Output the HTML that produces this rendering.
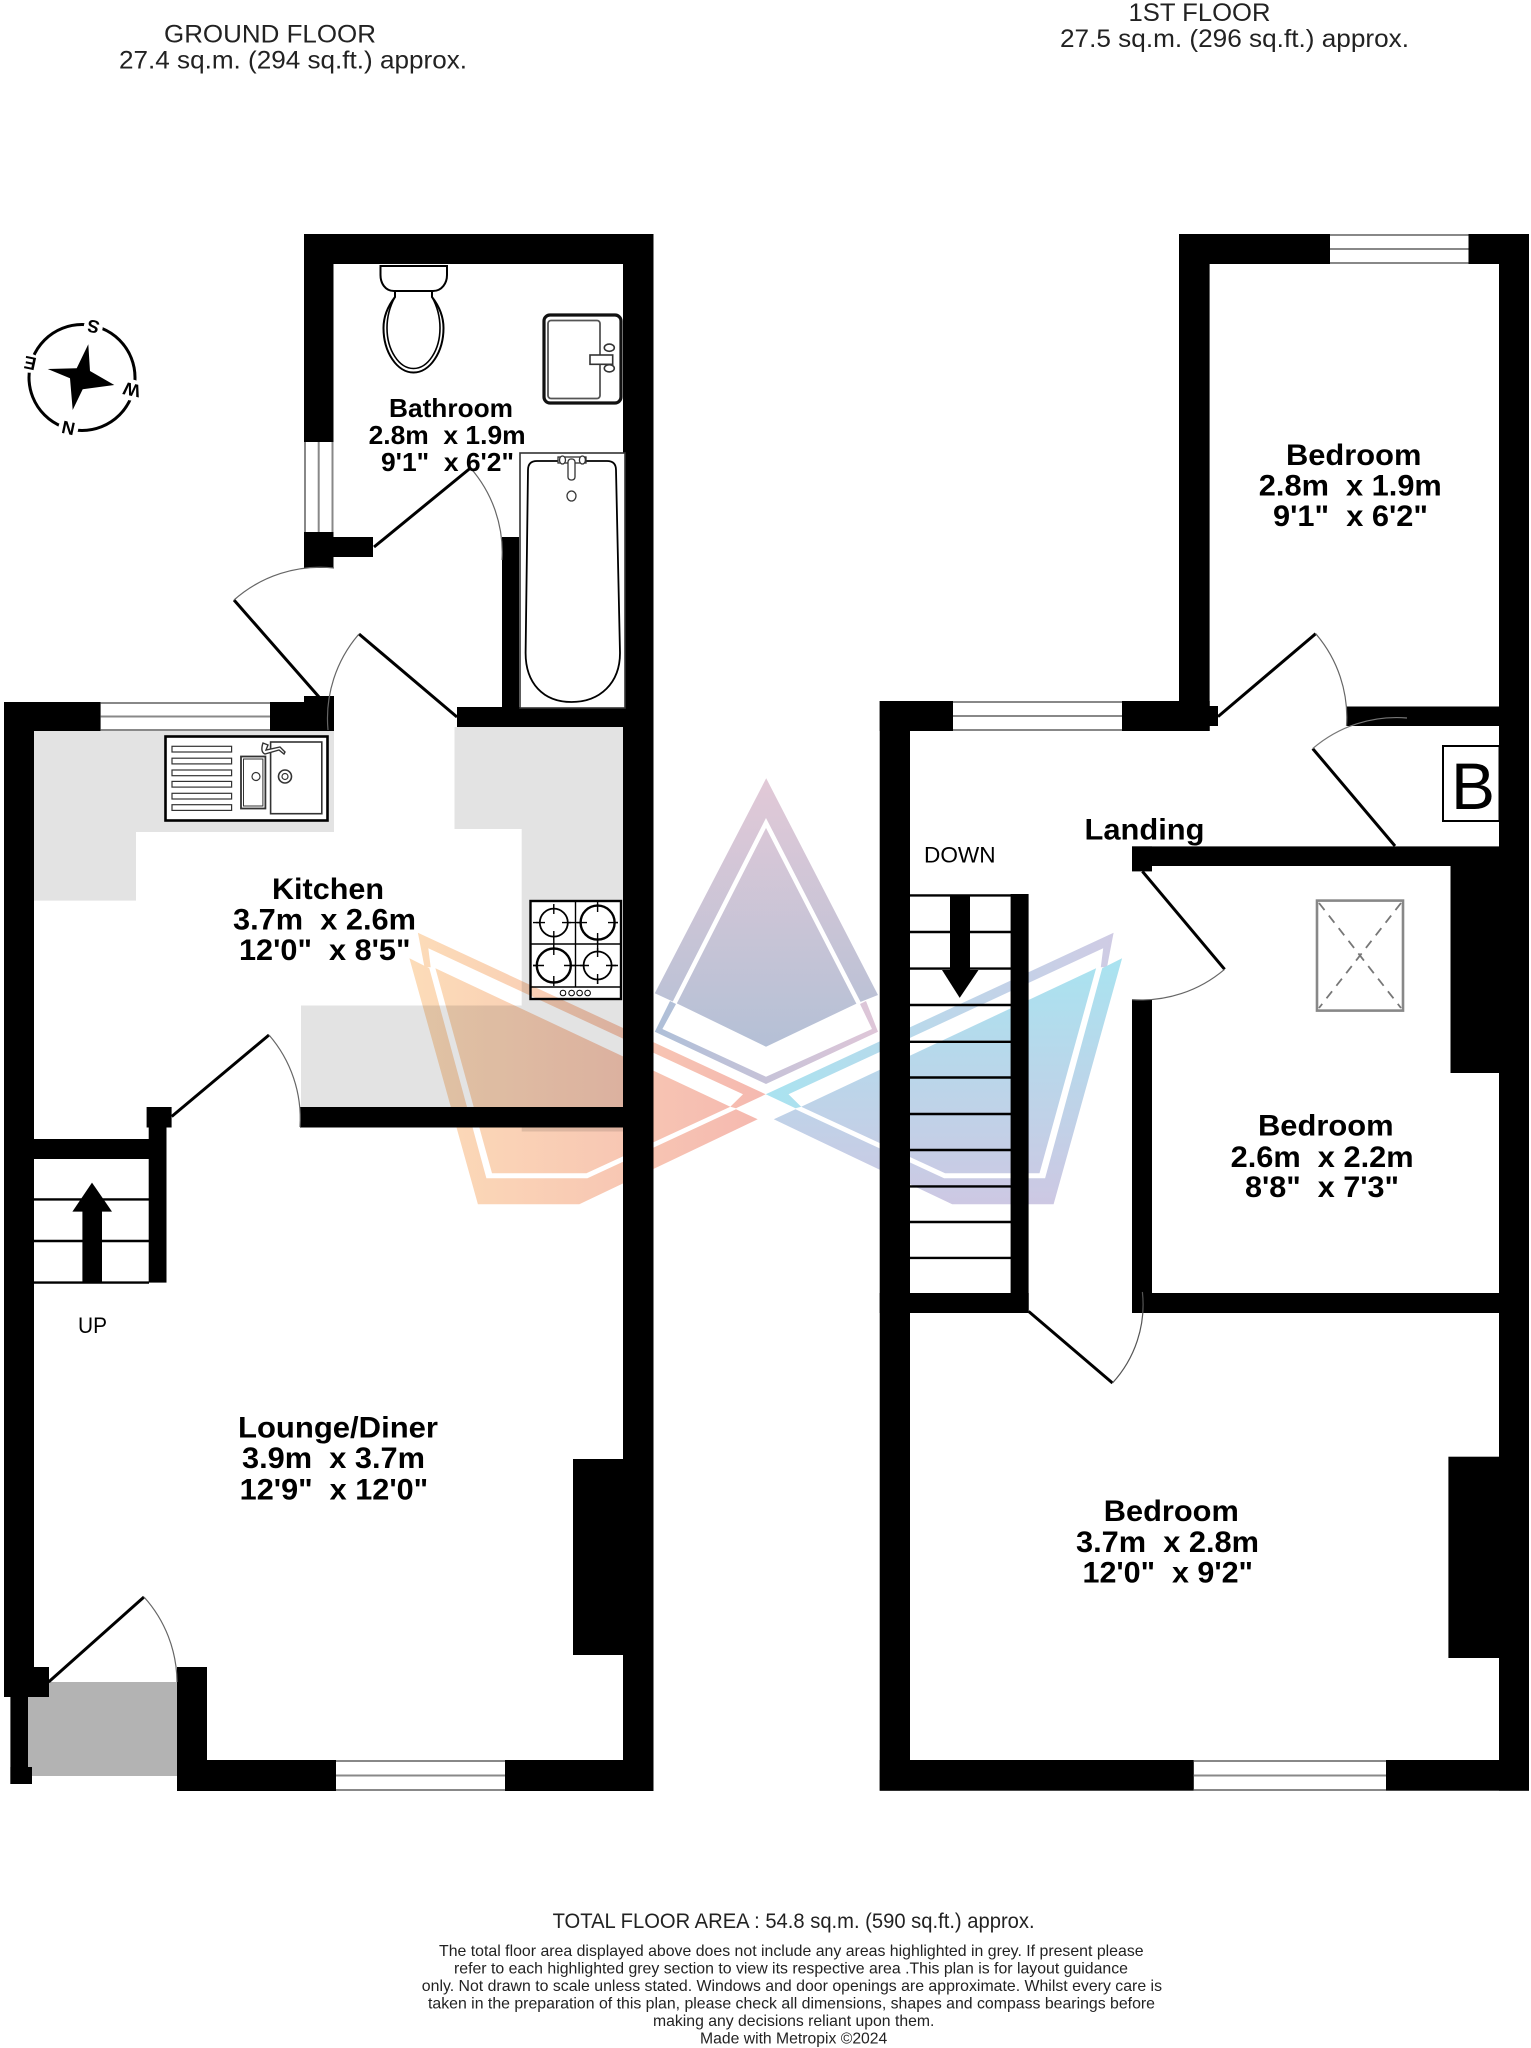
<!DOCTYPE html>
<html><head><meta charset="utf-8"><style>
html,body{margin:0;padding:0;background:#fff}
svg{display:block}
text{font-family:"Liberation Sans",sans-serif;white-space:pre;fill:#000}
.b{font-weight:bold}
.r{font-size:30px;font-weight:bold}
.f{font-size:16px;fill:#222}
.h{font-size:25px;fill:#222}
.leaf{stroke:#000;stroke-width:3;fill:none}
.arc{stroke:#666;stroke-width:1.2;fill:none}
.win{fill:#fff;stroke:none}
.wl{stroke:#888;stroke-width:2;fill:none}
.tread{stroke:#000;stroke-width:2.4}
</style></head><body>
<svg xmlns="http://www.w3.org/2000/svg" width="1531" height="2048" viewBox="0 0 1531 2048">
<defs>
<linearGradient id="gk" gradientUnits="userSpaceOnUse" x1="0" y1="778" x2="0" y2="1084"><stop offset="0" stop-color="#e2c9d7"/><stop offset="1" stop-color="#aebfd6"/></linearGradient>
<linearGradient id="gk2" gradientUnits="userSpaceOnUse" x1="655" y1="0" x2="878" y2="0"><stop offset="0" stop-color="#aebfd8"/><stop offset="1" stop-color="#dfc6d8"/></linearGradient>
<linearGradient id="go" gradientUnits="userSpaceOnUse" x1="410" y1="0" x2="760" y2="0"><stop offset="0" stop-color="#fcdcb8"/><stop offset="1" stop-color="#f5b9b0"/></linearGradient>
<linearGradient id="gb" gradientUnits="userSpaceOnUse" x1="0" y1="960" x2="0" y2="1204"><stop offset="0" stop-color="#a9e3f0"/><stop offset="1" stop-color="#cdc8e3"/></linearGradient>
<linearGradient id="gb1" gradientUnits="userSpaceOnUse" x1="418" y1="0" x2="766" y2="0"><stop offset="0" stop-color="#cfcbe4"/><stop offset="1" stop-color="#a9e3f0"/></linearGradient>
</defs>
<rect width="1531" height="2048" fill="#fff"/>

<!-- headers -->
<text class="h" x="164" y="42.5" textLength="212" lengthAdjust="spacingAndGlyphs">GROUND FLOOR</text>
<text class="h" x="119" y="68.5" textLength="348" lengthAdjust="spacingAndGlyphs">27.4 sq.m. (294 sq.ft.) approx.</text>
<text class="h" x="1128.5" y="21" textLength="142" lengthAdjust="spacingAndGlyphs">1ST FLOOR</text>
<text class="h" x="1060" y="47" textLength="349" lengthAdjust="spacingAndGlyphs">27.5 sq.m. (296 sq.ft.) approx.</text>

<!-- compass -->
<circle cx="82" cy="377.5" r="53" fill="none" stroke="#000" stroke-width="3"/>
<g fill="#fff"><circle cx="93.3" cy="326.7" r="9.5"/><circle cx="131.7" cy="390" r="10.5"/><circle cx="68.3" cy="428.3" r="10"/><circle cx="30" cy="363.3" r="9.5"/></g>
<polygon points="88.3,344.3 90,371 114.3,385 82.7,389.3 72.7,410 70,378.3 47.7,369 76.7,368.3" fill="#000"/>
<text text-anchor="middle" class="b" transform="translate(93.3,326.7) rotate(192) translate(0,6.5)" style="font-size:18px">S</text>
<text text-anchor="middle" class="b" transform="translate(131.7,390) rotate(192) translate(0,6.5)" style="font-size:18px">W</text>
<text text-anchor="middle" class="b" transform="translate(68.3,428.3) rotate(192) translate(0,6.5)" style="font-size:18px">N</text>
<text text-anchor="middle" class="b" transform="translate(30,363.3) rotate(192) translate(0,6.5)" style="font-size:18px">E</text>

<!-- ground floor worktops -->
<path d="M34 731H334V832H136V900.6H34Z" fill="#e3e3e3"/>
<path d="M454.5 727H623V1107H301V1005.5H521.7V829H454.5Z" fill="#e3e3e3"/>
<rect x="521.7" y="1125" width="101.3" height="6.5" fill="#e3e3e3"/>
<rect x="28" y="1682" width="149" height="94" fill="#b3b3b3"/>

<!-- ground floor walls -->
<g fill="#000">
<rect x="304" y="234" width="349.5" height="30"/>
<rect x="304" y="234" width="29.5" height="208"/>
<rect x="304" y="532" width="29.5" height="36"/>
<rect x="333" y="537" width="40" height="20"/>
<rect x="623" y="234" width="30.5" height="1557"/>
<rect x="502" y="537" width="17" height="172"/>
<rect x="457" y="707" width="167" height="20"/>
<rect x="4" y="702" width="330" height="29"/>
<rect x="304" y="696" width="30" height="35"/>
<rect x="4" y="702" width="30" height="995"/>
<rect x="4" y="1667" width="45" height="30"/>
<rect x="10.4" y="1697" width="17.6" height="87"/>
<rect x="10.4" y="1767" width="21.6" height="17"/>
<rect x="177" y="1667" width="30" height="124"/>
<rect x="177" y="1760" width="476" height="31"/>
<rect x="573" y="1459" width="50" height="196"/>
<rect x="300" y="1107" width="323" height="20.5"/>
<rect x="34" y="1139" width="132" height="20"/>
<rect x="146.6" y="1107" width="25" height="20.5"/>
<rect x="148.7" y="1127" width="17.8" height="155.6"/>
<rect x="82.4" y="1211" width="19.6" height="71.6"/>
<polygon points="92,1182.6 112,1211.6 72.4,1211.6"/>
</g>
<g>
<line class="tread" x1="34" y1="1199.4" x2="149" y2="1199.4"/>
<line class="tread" x1="34" y1="1241" x2="149" y2="1241"/>
<line class="tread" x1="34" y1="1282.6" x2="149" y2="1282.6"/>
</g>
<text x="78" y="1333" style="font-size:22px" textLength="29" lengthAdjust="spacingAndGlyphs">UP</text>

<!-- ground windows -->
<rect x="304" y="442" width="29.5" height="90" class="win"/>
<path class="wl" d="M305 442V532M318.7 442V532M332.5 442V532"/>
<rect x="100.6" y="702" width="169.4" height="29" class="win"/>
<path class="wl" d="M100.6 703H270M100.6 716.5H270M100.6 730H270"/>
<rect x="336" y="1760" width="169" height="31" class="win"/>
<path class="wl" d="M336 1761H505M336 1775.5H505M336 1790H505"/>

<!-- ground doors -->
<line class="leaf" x1="374" y1="547" x2="470.5" y2="468"/>
<path class="arc" d="M470.5 468A128 128 0 0 1 502 560"/>
<line class="leaf" x1="319" y1="697" x2="234" y2="600"/>
<path class="arc" d="M234 600A130 130 0 0 1 334 568"/>
<line class="leaf" x1="457" y1="717" x2="359" y2="634"/>
<path class="arc" d="M359 634A129 129 0 0 0 328 730"/>
<line class="leaf" x1="171.7" y1="1116.5" x2="269" y2="1035"/>
<path class="arc" d="M269 1035A128 128 0 0 1 300 1127"/>
<line class="leaf" x1="48.6" y1="1682" x2="144" y2="1597"/>
<path class="arc" d="M144 1597A128 128 0 0 1 177 1682"/>

<!-- WC -->
<g fill="#fff" stroke="#000" stroke-width="2">
<path d="M395 292V297C388 306 383.5 316 383.5 328C383.5 352 397 372.5 413.5 372.5C430 372.5 443.5 352 443.5 328C443.5 316 439 306 432 297V292" />
<path d="M395 297C390 306 387 317 387 328C387 350 399 368.5 413.5 368.5C428 368.5 440 350 440 328C440 317 437 306 432 297" fill="none" stroke-width="1.6"/>
<path d="M380.5 266H447V275C447 283 442 291 433 291H394C385 291 380.5 283 380.5 275Z"/>
</g>
<!-- basin -->
<rect x="544" y="315" width="77" height="88" rx="6" fill="#fff" stroke="#111" stroke-width="3.2"/>
<rect x="548" y="320.5" width="52" height="78" rx="3" fill="#fff" stroke="#555" stroke-width="1.8"/>
<ellipse cx="609.3" cy="347.7" rx="5" ry="3.6" fill="#fff" stroke="#333" stroke-width="1.6"/>
<ellipse cx="609.3" cy="368.3" rx="5" ry="3.6" fill="#fff" stroke="#333" stroke-width="1.6"/>
<rect x="590" y="355" width="22.7" height="9.3" fill="#fff" stroke="#333" stroke-width="1.6"/>
<!-- bath -->
<rect x="520" y="453" width="105" height="255" fill="#fff" stroke="#333" stroke-width="1.6"/>
<path d="M528 470Q528 461 537 461H607Q616 461 616 470L620 653C620 683 600 702 571.5 702C543 702 525.6 683 525.6 653Z" fill="#fff" stroke="#000" stroke-width="1.8"/>
<g fill="#fff" stroke="#333" stroke-width="1.3">
<rect x="558" y="457" width="28" height="6"/><rect x="568" y="459" width="7" height="21" rx="3"/>
<ellipse cx="562.5" cy="460" rx="3" ry="4"/><ellipse cx="582.4" cy="460" rx="3" ry="4"/>
<ellipse cx="571.5" cy="496" rx="4.5" ry="5"/>
</g>

<!-- sink -->
<rect x="165.5" y="736.5" width="162" height="84" fill="#fff" stroke="#000" stroke-width="2.6"/>
<g fill="#fff" stroke="#333" stroke-width="1.2">
<rect x="172" y="746.3" width="59.6" height="5.7"/><rect x="172" y="758.2" width="59.6" height="5.7"/><rect x="172" y="770" width="59.6" height="5.7"/><rect x="172" y="781.4" width="59.6" height="5.7"/><rect x="172" y="793.3" width="59.6" height="5.7"/><rect x="172" y="804.7" width="59.6" height="5.7"/>
<rect x="241" y="756.5" width="24.4" height="52" stroke-width="1.8"/>
<rect x="243.5" y="759" width="19.4" height="47" stroke-width="1"/>
<rect x="270.6" y="742" width="51.2" height="71.7" stroke-width="1.6"/>
<circle cx="256" cy="776.5" r="4"/>
<circle cx="285" cy="776.5" r="6.5" stroke-width="1.6"/><circle cx="285" cy="776.5" r="3"/>
<path d="M263 743Q260 752 265 754L279 750 284 754 285 752 280 747 266 750 268 745Z" stroke-width="1.4"/>
</g>
<!-- hob -->
<rect x="530.5" y="901" width="90.5" height="98" fill="#fff" stroke="#000" stroke-width="2.4"/>
<g stroke="#000" stroke-width="1.4" fill="#fff">
<line x1="575.5" y1="901" x2="575.5" y2="987"/><line x1="530" y1="944" x2="621" y2="944"/><line x1="530" y1="987" x2="621" y2="987"/>
<line x1="533" y1="922.6" x2="618" y2="922.6"/><line x1="533" y1="965.5" x2="618" y2="965.5"/>
<line x1="553.8" y1="904" x2="553.8" y2="984"/><line x1="597.6" y1="904" x2="597.6" y2="984"/>
<circle cx="553.8" cy="922.6" r="14" stroke-width="1.8"/>
<circle cx="597.6" cy="922.6" r="17" stroke-width="2.4"/>
<circle cx="553.8" cy="965.5" r="17" stroke-width="2.4"/>
<circle cx="597.6" cy="965.5" r="14" stroke-width="1.8"/>
<path d="M553.8 905V914M553.8 931V940M536 922.6H545M562 922.6H571M597.6 901V912M597.6 933V944M577 922.6H587M608 922.6H618M553.8 945V955M553.8 976V986M533 965.5H544M564 965.5H575M597.6 948V957M597.6 974V984M580 965.5H589M606 965.5H616" fill="none"/>
<g stroke-width="1"><circle cx="563" cy="993" r="2.8"/><circle cx="571.6" cy="993" r="2.8"/><circle cx="579.6" cy="993" r="2.8"/><circle cx="587.6" cy="993" r="2.8"/></g>
</g>

<!-- ground labels -->
<g>
<text x="389" y="417" class="b" style="font-size:26px" textLength="124" lengthAdjust="spacingAndGlyphs">Bathroom</text>
<text x="368.6" y="444" class="b" style="font-size:26px" textLength="157" lengthAdjust="spacingAndGlyphs">2.8m  x 1.9m</text>
<text x="381" y="471" class="b" style="font-size:26px" textLength="133" lengthAdjust="spacingAndGlyphs">9'1"  x 6'2"</text>
<text x="272" y="899" class="r" textLength="112" lengthAdjust="spacingAndGlyphs">Kitchen</text>
<text x="233" y="929.6" class="r" textLength="183" lengthAdjust="spacingAndGlyphs">3.7m  x 2.6m</text>
<text x="239" y="960" class="r" textLength="171.5" lengthAdjust="spacingAndGlyphs">12'0"  x 8'5"</text>
<text x="238" y="1437.5" class="r" textLength="200" lengthAdjust="spacingAndGlyphs">Lounge/Diner</text>
<text x="242" y="1468" class="r" textLength="183" lengthAdjust="spacingAndGlyphs">3.9m  x 3.7m</text>
<text x="239.7" y="1499.5" class="r" textLength="188.5" lengthAdjust="spacingAndGlyphs">12'9"  x 12'0"</text>
</g>

<!-- first floor walls -->
<g fill="#000">
<rect x="1179" y="234" width="350" height="30"/>
<rect x="1179" y="234" width="30.6" height="497"/>
<rect x="879.7" y="701" width="330" height="30"/>
<rect x="1209" y="706" width="9" height="20"/>
<rect x="1499" y="234" width="30" height="1556.7"/>
<rect x="1346.5" y="706.5" width="153" height="19.5"/>
<rect x="1132" y="846.4" width="367" height="19.6"/>
<rect x="1132" y="846.4" width="20" height="25"/>
<rect x="1450.5" y="866" width="49" height="207"/>
<rect x="1132" y="1000" width="20" height="313"/>
<rect x="1132" y="1293" width="397" height="20"/>
<rect x="879.7" y="701" width="30.3" height="1089.7"/>
<rect x="1010.6" y="894" width="18" height="419"/>
<rect x="879.7" y="1293" width="149" height="20"/>
<rect x="879.7" y="1760" width="649.3" height="30.7"/>
<rect x="1448.4" y="1456.7" width="51" height="201.3"/>
</g>
<g>
<line class="tread" x1="910" y1="895.4" x2="1011" y2="895.4"/>
<line class="tread" x1="910" y1="932" x2="1011" y2="932"/>
<line class="tread" x1="910" y1="968.6" x2="1011" y2="968.6"/>
<line class="tread" x1="910" y1="1005" x2="1011" y2="1005"/>
<line class="tread" x1="910" y1="1041.8" x2="1011" y2="1041.8"/>
<line class="tread" x1="910" y1="1077.5" x2="1011" y2="1077.5"/>
<line class="tread" x1="910" y1="1114" x2="1011" y2="1114"/>
<line class="tread" x1="910" y1="1150" x2="1011" y2="1150"/>
<line class="tread" x1="910" y1="1186.4" x2="1011" y2="1186.4"/>
<line class="tread" x1="910" y1="1222" x2="1011" y2="1222"/>
<line class="tread" x1="910" y1="1257.9" x2="1011" y2="1257.9"/>
</g>
<rect x="950" y="895" width="20" height="76" fill="#000"/>
<polygon points="942,970 978.5,970 959.7,997.9" fill="#000"/>

<!-- first windows -->
<rect x="1330" y="234" width="138.5" height="30" class="win"/>
<path class="wl" d="M1330 235H1468.5M1330 249H1468.5M1330 263H1468.5"/>
<rect x="953" y="701" width="169" height="30" class="win"/>
<path class="wl" d="M953 702H1122M953 716H1122M953 730H1122"/>
<rect x="1193.8" y="1760" width="192.2" height="30.7" class="win"/>
<path class="wl" d="M1193.8 1761H1386M1193.8 1775.5H1386M1193.8 1790H1386"/>

<!-- first doors -->
<line class="leaf" x1="1218" y1="716.6" x2="1315.7" y2="633.7"/>
<path class="arc" d="M1315.7 633.7A128 128 0 0 1 1346.5 726"/>
<line class="leaf" x1="1395" y1="846" x2="1312.7" y2="748.6"/>
<path class="arc" d="M1312.7 748.6A128 128 0 0 1 1407 718" style="stroke:#777"/>
<line class="leaf" x1="1142.4" y1="871.4" x2="1224.6" y2="969.3"/>
<path class="arc" d="M1224.6 969.3A128 128 0 0 1 1132 999.6"/>
<line class="leaf" x1="1028.6" y1="1311.4" x2="1112.5" y2="1383"/>
<path d="M1112.5 1383A116 116 0 0 0 1142.4 1292" fill="none" stroke="#555" stroke-width="1.2"/>

<!-- B box -->
<rect x="1443" y="746" width="56.5" height="75" fill="#fff" stroke="#000" stroke-width="2"/>
<text x="1451" y="809" style="font-size:66px">B</text>

<!-- skylight -->
<rect x="1317" y="900.6" width="86" height="110" fill="#fff" stroke="#888" stroke-width="2.6"/>
<g stroke="#777" stroke-width="1.8" stroke-dasharray="9 7" fill="none"><line x1="1319" y1="903" x2="1401" y2="1008"/><line x1="1401" y1="903" x2="1319" y2="1008"/></g>

<!-- first labels -->
<g>
<text x="924" y="862.7" style="font-size:22px" textLength="71.6" lengthAdjust="spacingAndGlyphs">DOWN</text>
<text x="1084.5" y="839.5" class="r" textLength="120" lengthAdjust="spacingAndGlyphs">Landing</text>
<text x="1286" y="465" class="r" textLength="135.4" lengthAdjust="spacingAndGlyphs">Bedroom</text>
<text x="1258.8" y="495.7" class="r" textLength="183" lengthAdjust="spacingAndGlyphs">2.8m  x 1.9m</text>
<text x="1273" y="526" class="r" textLength="155" lengthAdjust="spacingAndGlyphs">9'1"  x 6'2"</text>
<text x="1258" y="1135.4" class="r" textLength="135.6" lengthAdjust="spacingAndGlyphs">Bedroom</text>
<text x="1230.6" y="1166.8" class="r" textLength="183" lengthAdjust="spacingAndGlyphs">2.6m  x 2.2m</text>
<text x="1245" y="1197" class="r" textLength="154" lengthAdjust="spacingAndGlyphs">8'8"  x 7'3"</text>
<text x="1103.8" y="1521" class="r" textLength="135" lengthAdjust="spacingAndGlyphs">Bedroom</text>
<text x="1076" y="1552" class="r" textLength="183" lengthAdjust="spacingAndGlyphs">3.7m  x 2.8m</text>
<text x="1082.5" y="1582.7" class="r" textLength="170.5" lengthAdjust="spacingAndGlyphs">12'0"  x 9'2"</text>
</g>

<!-- footer -->
<text x="552.6" y="1928" style="font-size:21px;fill:#222" textLength="482" lengthAdjust="spacingAndGlyphs">TOTAL FLOOR AREA : 54.8 sq.m. (590 sq.ft.) approx.</text>
<text class="f" x="439" y="1956" textLength="704.6" lengthAdjust="spacingAndGlyphs">The total floor area displayed above does not include any areas highlighted in grey. If present please</text>
<text class="f" x="454" y="1973.3" textLength="674" lengthAdjust="spacingAndGlyphs">refer to each highlighted grey section to view its respective area .This plan is for layout guidance</text>
<text class="f" x="421.8" y="1991" textLength="740.2" lengthAdjust="spacingAndGlyphs">only. Not drawn to scale unless stated. Windows and door openings are approximate. Whilst every care is</text>
<text class="f" x="428" y="2008.3" textLength="727" lengthAdjust="spacingAndGlyphs">taken in the preparation of this plan, please check all dimensions, shapes and compass bearings before</text>
<text class="f" x="653" y="2026" textLength="281.4" lengthAdjust="spacingAndGlyphs">making any decisions reliant upon them.</text>
<text class="f" x="700" y="2043.3" textLength="187.3" lengthAdjust="spacingAndGlyphs">Made with Metropix ©2024</text>

<!-- watermark -->
<g style="mix-blend-mode:multiply">
<!-- centre kite -->
<polygon points="766.2,778.3 878,995 857.8,1003 766,1046.7 676,1003 654.8,993.3" fill="url(#gk)"/>
<polyline points="673.5,1005 766,823 859.6,1005" fill="none" stroke="#fff" stroke-width="4.5"/>
<polygon points="670,1001 676,1004 662.4,1029 766,1076.7 872,1029 860,1004 866,1001 878,1031.7 766,1084 654.8,1031.7" fill="url(#gk2)"/>
<!-- left -->
<g fill="url(#go)">
<polygon points="417.9,932.7 765.7,1094.3 736,1108.3 730.3,1106.7 743,1094.3 428.3,948.3 430.7,967.3 424.5,967.3"/>
<polygon points="409.4,958.3 429.3,968.3 486.4,1178.3 587.4,1178.3 736,1109.3 757.7,1119.3 579.3,1204.3 477.9,1204.3"/>
<polygon points="435.4,968.3 730.3,1106.7 586.4,1173.3 492,1173.3"/>
</g>
<!-- right -->
<g transform="matrix(-1 0 0 1 1531.5 0)">
<polygon fill="url(#gb1)" points="417.9,932.7 765.7,1094.3 736,1108.3 730.3,1106.7 743,1094.3 428.3,948.3 430.7,967.3 424.5,967.3"/>
<polygon fill="url(#gb)" points="409.4,958.3 429.3,968.3 486.4,1178.3 587.4,1178.3 736,1109.3 757.7,1119.3 579.3,1204.3 477.9,1204.3"/>
<polygon fill="url(#gb)" points="435.4,968.3 730.3,1106.7 586.4,1173.3 492,1173.3"/>
</g>
</g>
</svg>
</body></html>
